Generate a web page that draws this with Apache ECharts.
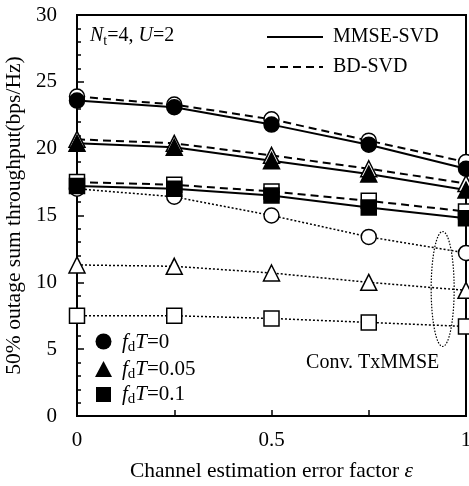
<!DOCTYPE html>
<html>
<head>
<meta charset="utf-8">
<script src="https://cdn.jsdelivr.net/npm/echarts@6/dist/echarts.min.js"></script>
<style>
html, body { margin: 0; background: #fff; }
#main { width: 469px; height: 486px; }
</style>
</head>
<body>
<div id="main"></div>
<script>
// channel estimation error factor
const eps = [0, 0.25, 0.5, 0.75, 1];

// MMSE-SVD (solid, filled markers)
const mmse_fd0   = [23.6, 23.1, 21.8, 20.3, 18.5];
const mmse_fd005 = [20.4, 20.1, 19.1, 18.1, 16.9];
const mmse_fd01  = [17.2, 17.0, 16.5, 15.6, 14.8];

// BD-SVD (dashed)
const bd_fd0   = [23.9, 23.3, 22.2, 20.6, 19.0];
const bd_fd005 = [20.7, 20.4, 19.5, 18.5, 17.4];
const bd_fd01  = [17.5, 17.3, 16.8, 16.1, 15.3];

// Conv. TxMMSE (dotted, open markers)
const conv_fd0   = [17.0, 16.4, 15.0, 13.4, 12.2];
const conv_fd005 = [11.3, 11.2, 10.7, 10.0, 9.4];
const conv_fd01  = [7.5, 7.5, 7.3, 7.0, 6.7];

const xTickLabels = { 0: '0', 0.5: '0.5', 1: '1' };

const FONT = 'Liberation Serif';

function pts(ys) {
    return eps.map((x, i) => [x, ys[i]]);
}

function mk(name, ys, symbol, size, kind) {
    var s = {
        name: name,
        type: 'line',
        data: pts(ys),
        symbol: symbol,
        symbolSize: size,
        clip: false,
        animation: false,
        lineStyle: { color: '#000', width: 2 },
        itemStyle: { color: '#000', borderColor: '#000', borderWidth: 1.5 }
    };
    if (kind === 'dash') {
        s.lineStyle.type = [8, 5];
        s.itemStyle.color = '#fff';
    } else if (kind === 'dot') {
        s.lineStyle.type = [2, 2];
        s.lineStyle.width = 1.5;
        s.itemStyle.color = '#fff';
    }
    return s;
}

var myChart = echarts.init(document.getElementById('main'));

var option = {
    backgroundColor: '#fff',
    textStyle: { fontFamily: FONT },
    grid: {
        left: 77, top: 15, right: 3, bottom: 70,
        outerBoundsMode: 'none',
        containLabel: false,
        show: true, borderColor: '#000', borderWidth: 2
    },
    xAxis: {
        type: 'value',
        min: 0, max: 1, interval: 0.25,
        name: '{t|Channel estimation error factor }{i|ε}',
        nameLocation: 'middle',
        nameGap: 44,
        nameTextStyle: {
            rich: {
                t: { fontFamily: FONT, fontSize: 21.5, color: '#000' },
                i: { fontFamily: FONT, fontSize: 21.5, fontStyle: 'italic', color: '#000' }
            }
        },
        axisLine: { lineStyle: { color: '#000', width: 2 } },
        axisTick: { inside: true, length: 6, lineStyle: { color: '#000', width: 1.5 } },
        axisLabel: {
            color: '#000', fontSize: 21, fontFamily: FONT, margin: 14,
            formatter: function (v) { return xTickLabels[v] !== undefined ? xTickLabels[v] : ''; }
        },
        splitLine: { show: false }
    },
    yAxis: {
        type: 'value',
        min: 0, max: 30, interval: 5,
        name: '50% outage sum throughput(bps/Hz)',
        nameLocation: 'middle',
        nameGap: 41,
        nameTextStyle: { color: '#000', fontSize: 21.5, fontFamily: FONT },
        axisLine: { show: true, lineStyle: { color: '#000', width: 2 } },
        axisTick: { inside: true, length: 7, lineStyle: { color: '#000', width: 1.5 } },
        minorTick: { show: true, splitNumber: 5, length: 4, lineStyle: { color: '#000', width: 1.5 } },
        axisLabel: { color: '#000', fontSize: 21, fontFamily: FONT, margin: 20 },
        splitLine: { show: false }
    },
    series: [
        mk('conv0', conv_fd0, 'circle', 15, 'dot'),
        mk('conv005', conv_fd005, 'triangle', 16, 'dot'),
        mk('conv01', conv_fd01, 'rect', 15, 'dot'),
        mk('bd0', bd_fd0, 'circle', 15, 'dash'),
        mk('bd005', bd_fd005, 'triangle', 16, 'dash'),
        mk('bd01', bd_fd01, 'rect', 15, 'dash'),
        mk('mmse0', mmse_fd0, 'circle', 15, 'solid'),
        mk('mmse005', mmse_fd005, 'triangle', 16, 'solid'),
        mk('mmse01', mmse_fd01, 'rect', 15, 'solid')
    ]
};

myChart.setOption(option);

// annotations placed from the axes
var ellC = myChart.convertToPixel({ gridIndex: 0 }, [0.94, 9.5]);
var ellT = myChart.convertToPixel({ gridIndex: 0 }, [0.94, 13.8]);
var convPos = myChart.convertToPixel({ gridIndex: 0 }, [0.76, 4.0]);

function rich(size, sub) {
    return {
        i: { fontFamily: FONT, fontSize: size, fontStyle: 'italic', color: '#000' },
        s: { fontFamily: FONT, fontSize: sub, color: '#000', padding: [size * 0.5, 0, 0, 0] },
        n: { fontFamily: FONT, fontSize: size, color: '#000' }
    };
}

var graphics = [
    // N_t=4, U=2
    {
        type: 'text', left: 90, top: 26,
        style: { text: '{i|N}{s|t}{n|=4, }{i|U}{n|=2}', rich: rich(20, 14) }
    },
    // line legend
    { type: 'line', shape: { x1: 267, y1: 37, x2: 323, y2: 37 }, style: { stroke: '#000', lineWidth: 2 } },
    { type: 'line', shape: { x1: 267, y1: 67, x2: 323, y2: 67 }, style: { stroke: '#000', lineWidth: 2, lineDash: [8, 5] } },
    { type: 'text', x: 333, y: 37, style: { text: 'MMSE-SVD', font: '20px "Liberation Serif"', fill: '#000', verticalAlign: 'middle' } },
    { type: 'text', x: 333, y: 67, style: { text: 'BD-SVD', font: '20px "Liberation Serif"', fill: '#000', verticalAlign: 'middle' } },
    // marker legend
    { type: 'circle', shape: { cx: 103.5, cy: 341.5, r: 8 }, style: { fill: '#000' } },
    { type: 'polygon', shape: { points: [[103.5, 361], [112, 377], [95, 377]] }, style: { fill: '#000' } },
    { type: 'rect', shape: { x: 96, y: 387, width: 15, height: 15 }, style: { fill: '#000' } },
    { type: 'text', x: 122, y: 342, style: { text: '{i|f}{s|d}{i|T}{n|=0}', rich: rich(21, 15), verticalAlign: 'middle' } },
    { type: 'text', x: 122, y: 369, style: { text: '{i|f}{s|d}{i|T}{n|=0.05}', rich: rich(21, 15), verticalAlign: 'middle' } },
    { type: 'text', x: 122, y: 394, style: { text: '{i|f}{s|d}{i|T}{n|=0.1}', rich: rich(21, 15), verticalAlign: 'middle' } },
    // Conv. TxMMSE group
    {
        type: 'ellipse',
        shape: { cx: ellC[0], cy: ellC[1], rx: 11.5, ry: ellC[1] - ellT[1] },
        style: { fill: 'none', stroke: '#000', lineWidth: 1.2, lineDash: [1.5, 1.5] }
    },
    {
        type: 'text', x: convPos[0], y: convPos[1],
        style: { text: 'Conv. TxMMSE', font: '20px "Liberation Serif"', fill: '#000', align: 'center', verticalAlign: 'middle' }
    }
];

myChart.setOption({ graphic: graphics });
</script>
</body>
</html>
